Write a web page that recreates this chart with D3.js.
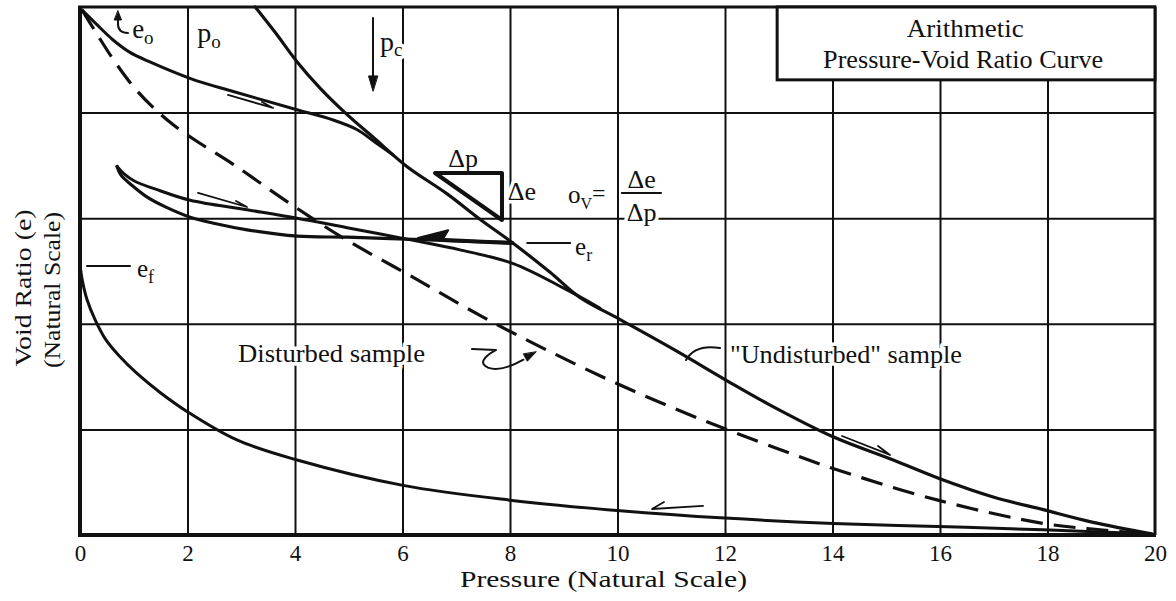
<!DOCTYPE html>
<html><head><meta charset="utf-8">
<script src="https://cdn.jsdelivr.net/npm/d3@7"></script>
<style>html,body{margin:0;padding:0;background:#fff;} svg{display:block;} svg text{font-family:"Liberation Serif","Times New Roman",Times,serif;}</style>
</head><body><svg id="c" width="1176" height="601"></svg>
<script>
// ---------- data ----------
const pressureTicks = [0,2,4,6,8,10,12,14,16,18,20];
const voidGrid = [1,2,3,4];
// initial loading curve from e_o
const initialP = [0.04,0.30,0.61,0.93,1.30,2.07,2.85,4.02,4.71,5.15,5.49,5.82];
const initialE = [4.97,4.84,4.69,4.57,4.48,4.32,4.20,4.03,3.93,3.84,3.72,3.60];
// virgin compression ("Undisturbed" sample)
const virginP = [3.26,3.63,4.04,4.47,4.93,5.49,6.08,6.83,7.44,8.04,8.74,9.30,10.05,11.07,12.04,12.84,14.01,15.13,15.96,16.99,17.92,18.85,19.94];
const virginE = [5.00,4.76,4.48,4.23,4.00,3.75,3.49,3.23,2.99,2.77,2.49,2.25,2.04,1.75,1.46,1.23,0.93,0.71,0.54,0.36,0.24,0.12,0.01];
// reloading branch
const reloadP = [0.69,0.82,1.02,1.49,2.05,3.11,4.04,4.97,6.20,7.07,8.06,8.99,9.67];
const reloadE = [3.49,3.42,3.35,3.26,3.17,3.08,3.00,2.91,2.79,2.70,2.57,2.34,2.15];
// unloading branch from e_r
const unloadP = [8.04,7.26,6.20,4.97,4.04,3.11,2.51,2.05,1.58,1.25,0.97,0.76,0.69];
const unloadE = [2.77,2.78,2.80,2.82,2.83,2.89,2.95,3.01,3.11,3.20,3.31,3.41,3.49];
// disturbed sample (dashed)
const disturbedP = [0.04,0.32,0.65,1.02,1.40,1.77,2.23,2.85,3.96,4.97,6.20,7.44,8.69,10.05,11.48,13.02,14.01,15.96,17.92,18.98,19.91];
const disturbedE = [4.97,4.74,4.48,4.23,4.03,3.87,3.71,3.51,3.12,2.79,2.44,2.08,1.75,1.42,1.11,0.81,0.63,0.33,0.11,0.05,0.01];
// rebound curve to e_f
const reboundP = [0,0.04,0.13,0.28,0.48,0.74,1.06,1.49,1.99,2.92,4.04,6.01,8.0,10.05,12.0,14.01,15.96,17.92,19.94];
const reboundE = [2.56,2.42,2.23,2.04,1.85,1.69,1.53,1.35,1.17,0.90,0.71,0.47,0.33,0.23,0.16,0.11,0.08,0.05,0.01];

// ---------- setup ----------
const FONT = '"Liberation Serif","Times New Roman",Times,serif';
const svg = d3.select("#c");
const x = d3.scaleLinear().domain([0,20]).range([80,1155]);
const y = d3.scaleLinear().domain([0,5]).range([535,7]);
const P = (p,e) => [x(p), y(e)];
const zip = (a,b) => a.map((v,i)=>[v,b[i]]);
const line = d3.line().x(d=>x(d[0])).y(d=>y(d[1])).curve(d3.curveCatmullRom.alpha(0.5));

// ---------- grid ----------
svg.append("g").attr("transform",`translate(0,${y(0)})`)
  .call(d3.axisBottom(x).tickValues(pressureTicks.slice(1,-1)).tickSize(-(y(0)-y(5))).tickFormat(""))
  .call(g=>g.select(".domain").remove())
  .call(g=>g.selectAll("line").attr("stroke","#111").attr("stroke-width",2));
svg.append("g").attr("transform",`translate(${x(0)},0)`)
  .call(d3.axisLeft(y).tickValues(voidGrid).tickSize(-(x(20)-x(0))).tickFormat(""))
  .call(g=>g.select(".domain").remove())
  .call(g=>g.selectAll("line").attr("stroke","#111").attr("stroke-width",2));

// tick labels
svg.append("g").attr("transform",`translate(0,${y(0)})`)
  .call(d3.axisBottom(x).tickValues(pressureTicks).tickSize(0).tickPadding(10).tickFormat(d3.format("d")))
  .call(g=>g.select(".domain").remove())
  .call(g=>g.selectAll("text").attr("font-family",FONT).attr("font-size",23).attr("fill","#111"));

// frame
const frame = svg.append("g").attr("stroke","#111").attr("fill","none");
frame.append("line").attr("x1",x(0)).attr("x2",x(0)).attr("y1",y(5)-1).attr("y2",y(0)+2).attr("stroke-width",4);
frame.append("line").attr("x1",x(0)-2).attr("x2",x(20)+1).attr("y1",y(0)).attr("y2",y(0)).attr("stroke-width",4);
frame.append("line").attr("x1",x(0)-2).attr("x2",x(20)+1).attr("y1",y(5)).attr("y2",y(5)).attr("stroke-width",3);
frame.append("line").attr("x1",x(20)).attr("x2",x(20)).attr("y1",y(5)).attr("y2",y(0)).attr("stroke-width",3);

// title box
svg.append("rect").attr("x",x(12.97)).attr("y",y(5)).attr("width",x(20)-x(12.97)).attr("height",y(4.31)-y(5))
  .attr("fill","#fff").attr("stroke","#111").attr("stroke-width",3);

// ---------- labels ----------
const labels = [
  {p:16.47,e:4.72,anchor:"middle",parts:[{t:"Arithmetic",s:25}],len:117},
  {p:16.43,e:4.42,anchor:"middle",parts:[{t:"Pressure-Void Ratio Curve",s:25}],len:280},
  {p:0.97,e:4.706,parts:[{t:"e",s:27},{t:"o",s:19,dy:6}]},
  {p:2.18,e:4.669,parts:[{t:"p",s:28},{t:"o",s:19,dy:6}]},
  {p:5.58,e:4.583,parts:[{t:"p",s:28},{t:"c",s:19,dy:5}]},
  {p:6.85,e:3.485,parts:[{t:"Δp",s:26}]},
  {p:7.96,e:3.172,parts:[{t:"Δe",s:26}]},
  {p:9.08,e:3.144,parts:[{t:"o",s:25},{t:"V",s:16,dy:6},{t:"=",s:24,dy:-8}]},
  {p:10.45,e:3.286,anchor:"middle",parts:[{t:"Δe",s:26}]},
  {p:10.45,e:2.973,anchor:"middle",parts:[{t:"Δp",s:26}]},
  {p:9.21,e:2.652,parts:[{t:"e",s:25},{t:"r",s:18,dy:6}]},
  {p:1.06,e:2.443,parts:[{t:"e",s:25},{t:"f",s:18,dy:6}]},
  {p:4.68,e:1.638,anchor:"middle",parts:[{t:"Disturbed sample",s:25}],len:187},
  {p:14.25,e:1.629,anchor:"middle",parts:[{t:"\"Undisturbed\" sample",s:25}],len:232}
];
function drawLabels(g, halo){
  labels.forEach(L=>{
    const t = g.append("text").attr("x",x(L.p)).attr("y",y(L.e)).attr("font-family",FONT)
      .attr("text-anchor",L.anchor||"start").attr("fill","#111");
    if(L.len) t.attr("textLength",L.len).attr("lengthAdjust","spacingAndGlyphs");
    if(halo) t.attr("stroke","#fff").attr("stroke-width",7).attr("stroke-linejoin","round").attr("fill","#fff");
    L.parts.forEach(pt=>{
      const s = t.append("tspan").attr("font-size",pt.s).text(pt.t);
      if(pt.dy) s.attr("dy",pt.dy);
    });
  });
}
drawLabels(svg.append("g"), true);

// axis titles
svg.append("text").attr("x",(x(0)+x(20))/2-14).attr("y",587).attr("text-anchor","middle").attr("font-family",FONT)
  .attr("font-size",24).attr("textLength",287).attr("lengthAdjust","spacingAndGlyphs").attr("fill","#111")
  .text("Pressure (Natural Scale)");
svg.append("text").attr("transform","translate(31,288) rotate(-90)").attr("text-anchor","middle").attr("font-family",FONT)
  .attr("font-size",24).attr("textLength",157).attr("lengthAdjust","spacingAndGlyphs").attr("fill","#111")
  .text("Void Ratio (e)");
svg.append("text").attr("transform","translate(60,290) rotate(-90)").attr("text-anchor","middle").attr("font-family",FONT)
  .attr("font-size",24).attr("textLength",156).attr("lengthAdjust","spacingAndGlyphs").attr("fill","#111")
  .text("(Natural Scale)");

// ---------- curves ----------
const curves = svg.append("g").attr("fill","none").attr("stroke","#111").attr("stroke-linecap","round").attr("stroke-linejoin","round");
curves.append("path").attr("d",line(zip(initialP,initialE))).attr("stroke-width",3);
curves.append("path").attr("d",line(zip(virginP,virginE))).attr("stroke-width",3.2);
curves.append("path").attr("d",line(zip(reloadP,reloadE))).attr("stroke-width",3);
curves.append("path").attr("d",line(zip(unloadP,unloadE))).attr("stroke-width",3.2);
curves.append("path").attr("d",line(zip(disturbedP,disturbedE))).attr("stroke-width",3.2)
  .attr("stroke-dasharray","22,11").attr("stroke-linecap","butt");
curves.append("path").attr("d",line(zip(reboundP,reboundE))).attr("stroke-width",3);

// ---------- annotation marks ----------
const ann = svg.append("g").attr("fill","none").attr("stroke","#111").attr("stroke-linecap","round").attr("stroke-linejoin","round");
const pl = pts => d3.line()(pts.map(d=>P(d[0],d[1])));
function head(tip, from, len, hw){
  const [tx,ty]=P(tip[0],tip[1]), [fx,fy]=P(from[0],from[1]);
  const dx=tx-fx, dy=ty-fy, L=Math.hypot(dx,dy), ux=dx/L, uy=dy/L;
  const bx=tx-ux*len, by=ty-uy*len;
  ann.append("path").attr("d",`M${tx},${ty}L${bx-uy*hw},${by+ux*hw}L${bx+uy*hw},${by-ux*hw}Z`)
    .attr("fill","#111").attr("stroke","#111").attr("stroke-width",1);
}
// p_c arrow
ann.append("path").attr("d",pl([[5.451,4.896],[5.451,4.30]])).attr("stroke-width",2);
head([5.451,4.205],[5.451,4.6],15,4.5);
// e_o arrow
ann.append("path").attr("d",`M${x(0.893)},${y(4.754)}Q${x(0.707)},${y(4.754)} ${x(0.707)},${y(4.839)}L${x(0.707)},${y(4.90)}`).attr("stroke-width",2);
head([0.707,4.962],[0.707,4.80],9,3.5);
// delta triangle
ann.append("path").attr("d",pl([[6.605,3.428],[7.851,3.428],[7.851,2.983]])+"Z").attr("stroke-width",4);
// fraction bar
ann.append("path").attr("d",pl([[10.08,3.239],[10.81,3.239]])).attr("stroke-width",2);
// e_r and e_f markers
ann.append("path").attr("d",pl([[8.32,2.765],[9.12,2.765]])).attr("stroke-width",2);
ann.append("path").attr("d",pl([[0.13,2.547],[0.93,2.547]])).attr("stroke-width",2);
// disturbed leader squiggle
ann.append("path").attr("d",`M${x(7.293)},${y(1.761)}L${x(7.74)},${y(1.752)}Q${x(7.35)},${y(1.64)} ${x(7.591)},${y(1.585)}Q${x(7.83)},${y(1.54)} ${x(8.25)},${y(1.66)}`).attr("stroke-width",2);
head([8.484,1.733],[8.2,1.655],12,4);
// undisturbed leader
ann.append("path").attr("d",`M${x(11.907)},${y(1.771)}Q${x(11.442)},${y(1.809)} ${x(11.274)},${y(1.657)}`).attr("stroke-width",2);
// direction half-arrows
ann.append("path").attr("d",pl([[2.753,4.167],[3.591,4.044],[3.386,4.100]])).attr("stroke-width",1.8);
ann.append("path").attr("d",pl([[2.195,3.239],[3.107,3.106],[2.902,3.163]])).attr("stroke-width",1.8);
ann.append("path").attr("d",pl([[14.177,0.9375],[15.07,0.758],[14.847,0.843]])).attr("stroke-width",1.8);
ann.append("path").attr("d",pl([[11.591,0.275],[10.642,0.246],[10.865,0.3125]])).attr("stroke-width",1.8);
// unloading arrow (thick, pointing left)
ann.append("path").attr("d",pl([[6.79,2.794],[8.037,2.765]])).attr("stroke-width",4);
ann.append("path").attr("d",pl([[6.288,2.813],[6.85,2.885],[6.75,2.80]])+"Z").attr("fill","#111").attr("stroke-width",2);

// ---------- label text on top ----------
drawLabels(svg.append("g"), false);
</script></body></html>
